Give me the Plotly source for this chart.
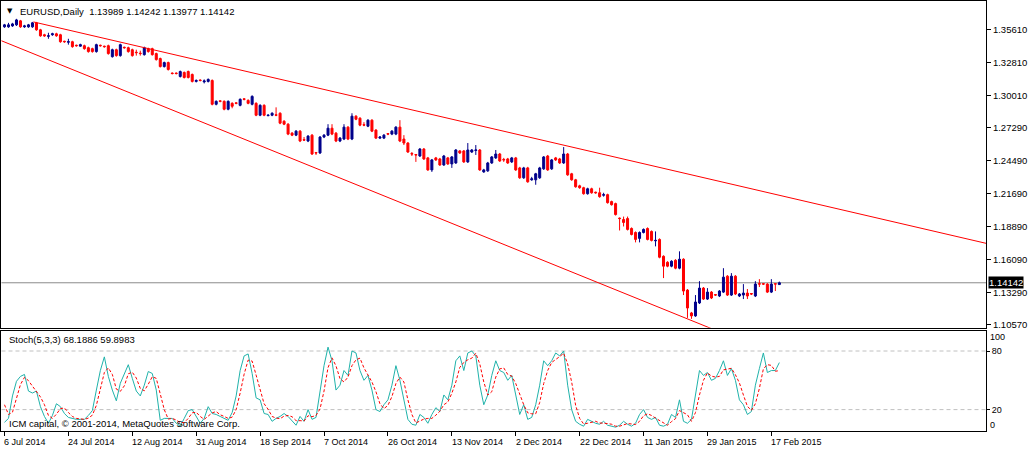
import plotly.graph_objects as go

# ---------------- data (EURUSD daily) ----------------
open_ = [
    1.3586, 1.3586, 1.3594, 1.3603, 1.3637, 1.3586, 1.3586, 1.3586, 1.3620, 1.3561,
    1.3519, 1.3506, 1.3519, 1.3527, 1.3519, 1.3464, 1.3456, 1.3460, 1.3430, 1.3422,
    1.3426, 1.3409, 1.3401, 1.3376, 1.3430, 1.3422, 1.3426, 1.3333, 1.3392, 1.3342,
    1.3413, 1.3409, 1.3392, 1.3371, 1.3363, 1.3350, 1.3401, 1.3401, 1.3359, 1.3317,
    1.3249, 1.3283, 1.3194, 1.3194, 1.3165, 1.3199, 1.3207, 1.3182, 1.3123, 1.3135,
    1.3119, 1.3123, 1.3131, 1.2929, 1.2958, 1.2954, 1.2887, 1.2937, 1.2941, 1.2920,
    1.2975, 1.2962, 1.2929, 1.2937, 1.2836, 1.2920, 1.2832, 1.2836, 1.2840, 1.2853,
    1.2785, 1.2760, 1.2684, 1.2667, 1.2701, 1.2629, 1.2617, 1.2667, 1.2520, 1.2516,
    1.2651, 1.2667, 1.2726, 1.2684, 1.2617, 1.2634, 1.2735, 1.2634, 1.2828, 1.2811,
    1.2756, 1.2743, 1.2794, 1.2710, 1.2642, 1.2642, 1.2680, 1.2676, 1.2676, 1.2735,
    1.2634, 1.2600, 1.2511, 1.2503, 1.2490, 1.2549, 1.2474, 1.2372, 1.2474, 1.2465,
    1.2414, 1.2474, 1.2423, 1.2431, 1.2533, 1.2533, 1.2440, 1.2524, 1.2537, 1.2541,
    1.2355, 1.2364, 1.2431, 1.2474, 1.2507, 1.2461, 1.2465, 1.2440, 1.2474, 1.2389,
    1.2305, 1.2389, 1.2288, 1.2288, 1.2305, 1.2381, 1.2490, 1.2381, 1.2474, 1.2465,
    1.2431, 1.2507, 1.2339, 1.2288, 1.2237, 1.2221, 1.2170, 1.2212, 1.2183, 1.2178,
    1.2157, 1.2162, 1.2103, 1.2086, 1.1963, 1.1951, 1.1959, 1.1875, 1.1841, 1.1791,
    1.1841, 1.1875, 1.1850, 1.1770, 1.1782, 1.1639, 1.1588, 1.1555, 1.1605, 1.1538,
    1.1614, 1.1352, 1.1158, 1.1133, 1.1243, 1.1369, 1.1276, 1.1335, 1.1314, 1.1302,
    1.1335, 1.1470, 1.1310, 1.1470, 1.1302, 1.1310, 1.1327, 1.1323, 1.1302, 1.1407,
    1.1407, 1.1403, 1.1335, 1.1407, 1.13989,
]
high = [
    1.3611, 1.3620, 1.3620, 1.3654, 1.3645, 1.3603, 1.3611, 1.3628, 1.3628, 1.3569,
    1.3527, 1.3536, 1.3536, 1.3536, 1.3527, 1.3468, 1.3485, 1.3468, 1.3435, 1.3443,
    1.3435, 1.3418, 1.3409, 1.3443, 1.3435, 1.3426, 1.3435, 1.3401, 1.3401, 1.3443,
    1.3418, 1.3418, 1.3401, 1.3392, 1.3384, 1.3418, 1.3409, 1.3409, 1.3367, 1.3325,
    1.3291, 1.3291, 1.3199, 1.3199, 1.3215, 1.3207, 1.3215, 1.3190, 1.3140, 1.3140,
    1.3140, 1.3148, 1.3140, 1.2962, 1.2962, 1.2962, 1.2962, 1.2946, 1.2946, 1.2979,
    1.2979, 1.2971, 1.3005, 1.2946, 1.2929, 1.2929, 1.2845, 1.2861, 1.2903, 1.2861,
    1.2794, 1.2769, 1.2693, 1.2710, 1.2710, 1.2651, 1.2667, 1.2676, 1.2524, 1.2659,
    1.2676, 1.2760, 1.2760, 1.2693, 1.2651, 1.2760, 1.2743, 1.2853, 1.2836, 1.2819,
    1.2777, 1.2802, 1.2802, 1.2718, 1.2659, 1.2676, 1.2684, 1.2710, 1.2743, 1.2794,
    1.2667, 1.2608, 1.2524, 1.2507, 1.2558, 1.2558, 1.2482, 1.2465, 1.2482, 1.2474,
    1.2499, 1.2482, 1.2490, 1.2549, 1.2541, 1.2541, 1.2600, 1.2549, 1.2583, 1.2549,
    1.2381, 1.2440, 1.2490, 1.2541, 1.2516, 1.2474, 1.2474, 1.2482, 1.2482, 1.2398,
    1.2398, 1.2398, 1.2313, 1.2347, 1.2398, 1.2490, 1.2499, 1.2465, 1.2482, 1.2474,
    1.2566, 1.2516, 1.2347, 1.2296, 1.2246, 1.2229, 1.2221, 1.2221, 1.2187, 1.2221,
    1.2178, 1.2170, 1.2111, 1.2094, 1.1968, 1.1976, 1.1976, 1.1884, 1.1850, 1.1850,
    1.1875, 1.1884, 1.1858, 1.1850, 1.1791, 1.1647, 1.1597, 1.1605, 1.1614, 1.1681,
    1.1622, 1.1361, 1.1167, 1.1310, 1.1428, 1.1378, 1.1369, 1.1344, 1.1319, 1.1352,
    1.1538, 1.1479, 1.1496, 1.1479, 1.1327, 1.1403, 1.1361, 1.1327, 1.1428, 1.1445,
    1.1411, 1.1411, 1.1445, 1.1411, 1.14242,
]
low = [
    1.3578, 1.3578, 1.3586, 1.3594, 1.3578, 1.3578, 1.3578, 1.3578, 1.3553, 1.3502,
    1.3502, 1.3485, 1.3510, 1.3502, 1.3451, 1.3451, 1.3435, 1.3409, 1.3418, 1.3418,
    1.3392, 1.3367, 1.3367, 1.3367, 1.3418, 1.3409, 1.3350, 1.3325, 1.3333, 1.3333,
    1.3401, 1.3367, 1.3333, 1.3342, 1.3342, 1.3342, 1.3367, 1.3342, 1.3300, 1.3241,
    1.3241, 1.3215, 1.3182, 1.3182, 1.3156, 1.3148, 1.3148, 1.3114, 1.3114, 1.3123,
    1.3106, 1.3114, 1.2920, 1.2920, 1.2946, 1.2878, 1.2878, 1.2895, 1.2929, 1.2912,
    1.2962, 1.2929, 1.2920, 1.2828, 1.2828, 1.2828, 1.2828, 1.2828, 1.2828, 1.2760,
    1.2752, 1.2667, 1.2659, 1.2659, 1.2608, 1.2617, 1.2608, 1.2499, 1.2499, 1.2507,
    1.2642, 1.2659, 1.2667, 1.2608, 1.2608, 1.2625, 1.2625, 1.2625, 1.2794, 1.2743,
    1.2743, 1.2735, 1.2693, 1.2634, 1.2634, 1.2634, 1.2667, 1.2667, 1.2667, 1.2608,
    1.2583, 1.2516, 1.2490, 1.2440, 1.2482, 1.2457, 1.2364, 1.2355, 1.2448, 1.2406,
    1.2406, 1.2414, 1.2389, 1.2423, 1.2507, 1.2431, 1.2431, 1.2516, 1.2499, 1.2364,
    1.2347, 1.2355, 1.2423, 1.2465, 1.2440, 1.2440, 1.2423, 1.2431, 1.2364, 1.2296,
    1.2296, 1.2263, 1.2280, 1.2246, 1.2296, 1.2372, 1.2364, 1.2372, 1.2448, 1.2423,
    1.2423, 1.2322, 1.2280, 1.2221, 1.2212, 1.2162, 1.2162, 1.2170, 1.2170, 1.2136,
    1.2145, 1.2086, 1.2069, 1.1985, 1.1858, 1.1892, 1.1858, 1.1816, 1.1757, 1.1757,
    1.1833, 1.1774, 1.1765, 1.1723, 1.1622, 1.1454, 1.1546, 1.1546, 1.1529, 1.1529,
    1.1310, 1.1116, 1.1108, 1.1125, 1.1234, 1.1268, 1.1268, 1.1276, 1.1302, 1.1293,
    1.1327, 1.1302, 1.1302, 1.1310, 1.1293, 1.1276, 1.1276, 1.1310, 1.1293, 1.1378,
    1.1395, 1.1327, 1.1327, 1.1344, 1.13977,
]
close = [
    1.3603, 1.3603, 1.3611, 1.3645, 1.3586, 1.3594, 1.3603, 1.3620, 1.3561, 1.3510,
    1.3510, 1.3510, 1.3527, 1.3510, 1.3460, 1.3460, 1.3460, 1.3418, 1.3426, 1.3435,
    1.3401, 1.3376, 1.3376, 1.3435, 1.3426, 1.3418, 1.3359, 1.3392, 1.3342, 1.3435,
    1.3409, 1.3376, 1.3342, 1.3367, 1.3359, 1.3409, 1.3376, 1.3350, 1.3308, 1.3249,
    1.3283, 1.3224, 1.3190, 1.3190, 1.3207, 1.3156, 1.3156, 1.3123, 1.3131, 1.3131,
    1.3127, 1.3140, 1.2929, 1.2954, 1.2954, 1.2887, 1.2954, 1.2912, 1.2937, 1.2971,
    1.2971, 1.2937, 1.2996, 1.2836, 1.2920, 1.2836, 1.2836, 1.2853, 1.2836, 1.2769,
    1.2760, 1.2676, 1.2667, 1.2701, 1.2617, 1.2625, 1.2659, 1.2507, 1.2516, 1.2651,
    1.2667, 1.2726, 1.2676, 1.2617, 1.2642, 1.2735, 1.2634, 1.2828, 1.2802, 1.2752,
    1.2752, 1.2794, 1.2701, 1.2642, 1.2651, 1.2667, 1.2676, 1.2701, 1.2735, 1.2617,
    1.2600, 1.2524, 1.2507, 1.2499, 1.2549, 1.2465, 1.2372, 1.2457, 1.2457, 1.2414,
    1.2490, 1.2423, 1.2482, 1.2541, 1.2516, 1.2440, 1.2541, 1.2541, 1.2541, 1.2372,
    1.2372, 1.2431, 1.2482, 1.2507, 1.2448, 1.2457, 1.2431, 1.2474, 1.2372, 1.2305,
    1.2389, 1.2271, 1.2296, 1.2339, 1.2389, 1.2482, 1.2372, 1.2457, 1.2457, 1.2431,
    1.2507, 1.2330, 1.2288, 1.2229, 1.2221, 1.2170, 1.2212, 1.2178, 1.2178, 1.2145,
    1.2162, 1.2094, 1.2077, 1.1993, 1.1959, 1.1926, 1.1867, 1.1824, 1.1782, 1.1841,
    1.1867, 1.1782, 1.1774, 1.1774, 1.1631, 1.1555, 1.1555, 1.1597, 1.1538, 1.1614,
    1.1344, 1.1200, 1.1133, 1.1251, 1.1369, 1.1276, 1.1335, 1.1285, 1.1310, 1.1344,
    1.1462, 1.1310, 1.1470, 1.1319, 1.1319, 1.1327, 1.1302, 1.1319, 1.1403, 1.1403,
    1.1403, 1.1335, 1.1403, 1.1403, 1.14142,
]

# Stochastic(5,3,3): main line (%K) and signal line (%D)
stoch_k = [
    7, 11, 34, 49, 54, 56, 39, 37, 39, 23,
    13, 6, 14, 26, 23, 16, 12, 11, 10, 10,
    10, 14, 19, 40, 60, 74, 54, 40, 29, 47,
    57, 66, 52, 39, 34, 45, 59, 57, 40, 9,
    11, 11, 11, 6, 3, 11, 19, 20, 13, 6,
    11, 23, 16, 15, 13, 11, 9, 17, 34, 60,
    75, 77, 57, 32, 30, 16, 15, 8, 11, 13,
    16, 13, 9, 4, 13, 8, 20, 10, 12, 40,
    65, 84, 70, 40, 45, 60, 55, 80, 78, 60,
    50, 55, 40, 20, 18, 25, 30, 45, 65, 50,
    30, 10, 5, 4, 15, 12, 6, 15, 22, 18,
    35, 30, 45, 70, 75, 60, 78, 80, 75, 45,
    25, 35, 55, 70, 60, 58, 50, 55, 35, 15,
    25, 10, 12, 25, 45, 70, 65, 70, 78, 75,
    80, 45, 20, 8, 5, 3, 10, 8, 6, 5,
    8, 4, 3, 2, 4, 8, 5, 3, 6, 15,
    20, 12, 10, 12, 4, 3, 5, 15, 12, 30,
    8, 6, 10, 35, 60, 55, 58, 50, 52, 60,
    70, 55, 62, 50, 30, 25, 15, 18, 45, 62,
    78, 58, 60, 60, 68.1886,
]
stoch_d = [
    25, 15, 17.3, 31.3, 45.7, 53, 49.7, 44, 38.3, 33,
    25, 14, 11, 15.3, 21, 21.7, 17, 13, 11, 10.3,
    10, 11.3, 14.3, 24.3, 39.7, 58, 62.7, 56, 41, 38.7,
    44.3, 56.7, 58.3, 52.3, 41.7, 39.3, 46, 53.7, 52, 35.3,
    20, 10.3, 11, 9.3, 6.7, 6.7, 11, 16.7, 17.3, 13,
    10, 13.3, 16.7, 18, 14.7, 13, 11, 12.3, 20, 37,
    56.3, 70.7, 69.7, 55.3, 39.7, 26, 20.3, 13, 11.3, 10.7,
    13.3, 14, 12.7, 8.7, 8.7, 8.3, 13.7, 12.7, 14, 20.7,
    39, 63, 73, 64.7, 51.7, 48.3, 53.3, 65, 71, 72.7,
    62.7, 55, 48.3, 38.3, 26, 21, 24.3, 33.3, 46.7, 53.3,
    48.3, 30, 15, 6.3, 8, 10.3, 11, 11, 14.3, 18.3,
    25, 27.7, 36.7, 48.3, 63.3, 68.3, 71, 72.7, 77.7, 66.7,
    48.3, 35, 38.3, 53.3, 61.7, 62.7, 56, 54.3, 46.7, 35,
    25, 16.7, 15.7, 15.7, 27.3, 46.7, 60, 68.3, 71, 74.3,
    77.7, 66.7, 48.3, 24.3, 11, 5.3, 6, 7, 8, 6.3,
    6.3, 5.7, 5, 3, 3, 4.7, 5.7, 5.3, 4.7, 8,
    13.7, 15.7, 14, 11.3, 8.7, 6.3, 4, 7.7, 10.7, 19,
    16.7, 14.7, 8, 17, 35, 50, 57.7, 54.3, 53.3, 54,
    60.7, 61.7, 62.3, 55.7, 47.3, 35, 23.3, 19.3, 26, 41.7,
    61.7, 66, 65.3, 59.3, 59.8983,
]

# axis / label data
symbol = "EURUSD,Daily"
price_ticks = [1.35610, 1.32810, 1.30010, 1.27290, 1.24490, 1.21690, 1.18890, 1.16090, 1.13290, 1.10570]
date_labels = ["6 Jul 2014", "24 Jul 2014", "12 Aug 2014", "31 Aug 2014", "18 Sep 2014", "7 Oct 2014",
               "26 Oct 2014", "13 Nov 2014", "2 Dec 2014", "22 Dec 2014", "11 Jan 2015", "29 Jan 2015",
               "17 Feb 2015"]
date_bars = [0, 16, 32, 48, 64, 80, 96, 112, 128, 144, 160, 176, 192]
stoch_levels = [80, 20]
stoch_axis_labels = [100, 80, 20, 0]
# hand-drawn trend lines (bar index, price) anchors
upper_trend_x = [7.25, 245.75]
upper_trend_y = [1.3628, 1.1749]
lower_trend_x = [-2.0, 180.0]
lower_trend_y = [1.3485, 1.0984]

# ---------------- styling / layout ----------------
W, H = 1029, 451
FONT = "Liberation Sans, Arial, sans-serif"
BULL = "#00008B"
BEAR = "#FF0000"


def px_x(p):
    return p / W


def px_y(p):
    return 1 - p / H


bars = list(range(len(close)))
X_RANGE = [-0.75, 245.75]
MAIN_TOP, MAIN_BOT = 0.5, 329.0
ST_TOP, ST_BOT = 332.0, 433.0
RIGHT = 986.0
# price <-> pixel scale of the main panel (about 1186 px per unit)
PX_PER_UNIT = 1 / 0.000843
P_AT_TOP = 1.3561 + (29 - MAIN_TOP) / PX_PER_UNIT
P_AT_BOT = 1.3561 - (MAIN_BOT - 29) / PX_PER_UNIT
# stochastic scale: value 0 at pixel 431, 0.983 px per unit
S_AT_TOP = (431 - ST_TOP) / 0.983
S_AT_BOT = (431 - ST_BOT) / 0.983

fig = go.Figure()

fig.add_trace(go.Candlestick(
    x=bars, open=open_, high=high, low=low, close=close,
    increasing=dict(line=dict(color=BULL, width=1), fillcolor=BULL),
    decreasing=dict(line=dict(color=BEAR, width=1), fillcolor=BEAR),
    whiskerwidth=0, xaxis="x", yaxis="y", showlegend=False, hoverinfo="skip",
))

fig.add_trace(go.Scatter(x=upper_trend_x, y=upper_trend_y, mode="lines",
                         line=dict(color=BEAR, width=1), xaxis="x", yaxis="y",
                         showlegend=False, hoverinfo="skip"))
fig.add_trace(go.Scatter(x=lower_trend_x, y=lower_trend_y, mode="lines",
                         line=dict(color=BEAR, width=1), xaxis="x", yaxis="y",
                         showlegend=False, hoverinfo="skip"))

fig.add_trace(go.Scatter(x=bars, y=stoch_k, mode="lines",
                         line=dict(color="#20B2AA", width=1), xaxis="x2", yaxis="y2",
                         showlegend=False, hoverinfo="skip"))
fig.add_trace(go.Scatter(x=bars, y=stoch_d, mode="lines",
                         line=dict(color=BEAR, width=1, dash="3px,2px"), xaxis="x2", yaxis="y2",
                         showlegend=False, hoverinfo="skip"))

shapes = [
    dict(type="line", xref="x domain", yref="y", x0=0, x1=1, y0=close[-1], y1=close[-1],
         line=dict(color="#8C8C8C", width=1), layer="below"),
]
for lv in stoch_levels:
    shapes.append(dict(type="line", xref="x2 domain", yref="y2", x0=0, x1=1, y0=lv, y1=lv,
                       line=dict(color="#C0C0C0", width=1, dash="4px,3px"), layer="below"))

small = dict(family=FONT, size=9.5, color="black")
annotations = [
    dict(text="▼", xref="paper", yref="paper", x=px_x(9.5), y=px_y(10.5), xanchor="center",
         yanchor="middle", showarrow=False, font=dict(family="DejaVu Sans", size=7, color="black")),
    dict(text=f"{symbol}  {open_[-1]:.5f} {high[-1]:.5f} {low[-1]:.5f} {close[-1]:.5f}",
         xref="paper", yref="paper", x=px_x(17), y=px_y(10.5), xanchor="left", yanchor="middle",
         showarrow=False, font=small),
    dict(text=f"Stoch(5,3,3) {stoch_k[-1]:.4f} {stoch_d[-1]:.4f}", xref="paper", yref="paper",
         x=px_x(6), y=px_y(340.5), xanchor="left", yanchor="middle", showarrow=False, font=small),
    dict(text="ICM capital, © 2001-2014, MetaQuotes Software Corp.", xref="paper", yref="paper",
         x=px_x(6), y=px_y(425), xanchor="left", yanchor="middle", showarrow=False, font=small),
    dict(text=f"{close[-1]:.5f}", xref="paper", yref="y", x=px_x(988), y=close[-1],
         xanchor="left", yanchor="middle", showarrow=False, bgcolor="black", borderpad=0,
         font=dict(family=FONT, size=9.5, color="white")),
]
for lab, b in zip(date_labels, date_bars):
    annotations.append(dict(text=lab, xref="x2", yref="paper", x=b, y=px_y(443.5), xanchor="left",
                            yanchor="middle", xshift=-2, showarrow=False,
                            font=dict(family=FONT, size=9, color="black")))
# the 100 / 0 labels of the oscillator sit just inside the panel
annotations.append(dict(text=str(stoch_axis_labels[0]), xref="paper", yref="y2", x=px_x(988),
                        y=stoch_axis_labels[0], xanchor="left", yanchor="middle", yshift=-6,
                        showarrow=False, font=dict(family=FONT, size=9, color="black")))
annotations.append(dict(text=str(stoch_axis_labels[3]), xref="paper", yref="y2", x=px_x(988),
                        y=stoch_axis_labels[3], xanchor="left", yanchor="middle", yshift=4,
                        showarrow=False, font=dict(family=FONT, size=9, color="black")))

axis_common = dict(showgrid=False, zeroline=False, showline=True, mirror=True,
                   linecolor="black", linewidth=1)

fig.update_layout(
    width=W, height=H, margin=dict(l=0, r=0, t=0, b=0),
    paper_bgcolor="white", plot_bgcolor="white",
    showlegend=False, boxgap=0.5, boxgroupgap=0,
    font=dict(family=FONT, size=9.5, color="black"),
    xaxis=dict(domain=[px_x(0.5), px_x(RIGHT)], range=X_RANGE, anchor="y",
               showticklabels=False, ticks="", rangeslider=dict(visible=False), **axis_common),
    yaxis=dict(domain=[px_y(MAIN_BOT), px_y(MAIN_TOP)], range=[P_AT_BOT, P_AT_TOP], anchor="x",
               side="right", tickvals=price_ticks, ticktext=[f"{v:.5f}" for v in price_ticks],
               ticks="outside", ticklen=4, tickcolor="black",
               tickfont=dict(family=FONT, size=9.5, color="black"), **axis_common),
    xaxis2=dict(domain=[px_x(0.5), px_x(RIGHT)], range=X_RANGE, anchor="y2", matches="x",
                tickvals=date_bars, showticklabels=False, ticks="outside", ticklen=4,
                tickcolor="black", **axis_common),
    yaxis2=dict(domain=[px_y(ST_BOT), px_y(ST_TOP)], range=[S_AT_BOT, S_AT_TOP], anchor="x2",
                side="right", tickvals=stoch_axis_labels[1:3],
                ticktext=[str(v) for v in stoch_axis_labels[1:3]],
                ticks="outside", ticklen=3, tickcolor="black",
                tickfont=dict(family=FONT, size=9, color="black"), **axis_common),
    shapes=shapes, annotations=annotations,
)

fig.write_html("out.html")
